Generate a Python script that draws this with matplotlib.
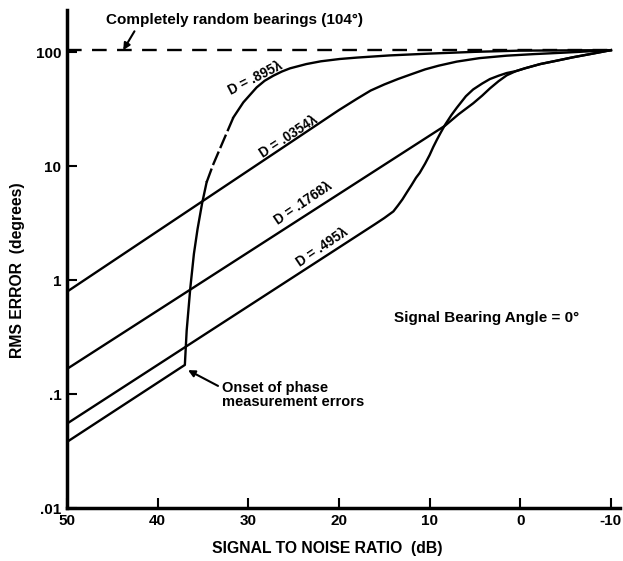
import numpy as np
import matplotlib.pyplot as plt
from matplotlib.ticker import NullLocator

plt.rcParams['font.family'] = ['Liberation Sans', 'DejaVu Sans']
plt.rcParams['font.weight'] = 'bold'
plt.rcParams['axes.unicode_minus'] = False

# values (SNR in dB, RMS error in degrees)
snr_0354 = [50, 20, 18, 16.5, 15, 13.5, 12, 10.5, 9, 7, 4.5, 1.5, -1.5, -5, -10]
err_0354 = [0.79, 31, 39, 46, 52, 58, 64, 70.5, 76, 82.5, 88.5, 93, 96, 99, 104]

snr_1768 = [50, 8.3, 6.8, 5.2, 4.2, 3.35, 2.4, 1.5, 0.5, -0.5, -2.2, -4.0, -5.8, -8.0, -10]
err_1768 = [0.166, 22.6, 28.5, 35.5, 41.5, 48, 55.5, 62.5, 68, 72, 78.5, 84, 90, 97, 104]

snr_495 = [50, 16, 15, 14, 13.5, 13, 12.5, 12, 11.5, 11.1, 10.5, 10, 9.6, 9.2, 8.8, 8.3,
           7.6, 7.0, 6.0, 5.2, 4.2, 3.35, 2.4, 1.5, 0.5, -0.5, -2.2, -4.0, -5.8, -8.0, -10]
err_495 = [0.055, 3.1, 3.5, 4.0, 4.5, 5.1, 5.9, 6.8, 7.9, 8.7, 10.5, 12.5, 14.7, 17, 19.5, 23,
           28, 32.5, 41, 47, 53, 58, 62, 65.5, 68, 72, 78.5, 84, 90, 97, 104]

snr_895 = [50, 37.0, 36.8, 36.4, 36.0, 35.6, 35.1, 34.6, 33.9, 32.75, 31.65, 30.55,
           29.08, 28.2, 27.25, 26.3, 25.4, 23.6, 22, 19.9, 18, 14.4, 10, 5, 0, -10]
err_895 = [0.038, 0.18, 0.36, 0.85, 1.7, 2.8, 4.7, 7.2, 10.2, 16.7, 26.7, 36.2,
           49, 56, 62, 67.5, 72, 78.5, 83, 87, 89.5, 93.5, 97, 100.5, 103, 104]
dash_start, dash_end = 7, 10   # broken stretch of the .895 curve

random_snr = [50, -10]
random_err = [104, 104]

yticks = [0.01, 0.1, 1, 10, 100]
ylabels = ['.01', '.1', '1', '10', '100']
xticks = [50, 40, 30, 20, 10, 0, -10]

fig = plt.figure(figsize=(6.23, 5.61), dpi=100)
ax = fig.add_axes([67/623, 1 - 508/561, (620 - 67)/623, (508 - 10)/561])
ax.set_yscale('log')
ax.set_xlim(50, -11)
ax.set_ylim(0.01, 234)

lw = 1.7
ax.plot(random_snr, random_err, color='black', lw=lw, dashes=(6.2, 4.4))
ax.plot(snr_0354, err_0354, color='black', lw=lw)
ax.plot(snr_1768, err_1768, color='black', lw=lw)
ax.plot(snr_495, err_495, color='black', lw=lw)
ax.plot(snr_895[:dash_start + 1], err_895[:dash_start + 1], color='black', lw=lw)
ax.plot(snr_895[dash_start:dash_end + 1], err_895[dash_start:dash_end + 1],
        color='black', lw=lw, dashes=(6.2, 1.6))
ax.plot(snr_895[dash_end:], err_895[dash_end:], color='black', lw=lw)

# curve labels
lab = dict(fontsize=9.75, ha='center', va='center')
ax.text(29.2, 59, 'D = .895λ', rotation=27, **lab)
ax.text(25.6, 18.1, 'D = .0354λ', rotation=33, **lab)
ax.text(23.9, 4.7, 'D = .1768λ', rotation=34, **lab)
ax.text(21.9, 1.96, 'D = .495λ', rotation=34, **lab)

ax.annotate('Completely random bearings (104°)', xy=(43.8, 104), xytext=(45.7, 190),
            fontsize=11, ha='left', va='center',
            arrowprops=dict(arrowstyle='-|>', color='black', lw=1.5,
                            mutation_scale=10, relpos=(0.12, 0), shrinkA=1, shrinkB=0))
ax.annotate('Onset of phase\nmeasurement errors', xy=(36.65, 0.162), xytext=(32.9, 0.098),
            fontsize=10.5, ha='left', va='center', linespacing=1.0,
            arrowprops=dict(arrowstyle='-|>', color='black', lw=1.5,
                            mutation_scale=10, relpos=(0, 0.75), shrinkA=1, shrinkB=0))
ax.text(3.7, 0.46, 'Signal Bearing Angle = 0°', fontsize=11, ha='center', va='center')

ax.set_yticks(yticks)
ax.set_yticklabels(ylabels)
ax.set_xticks(xticks)
ax.yaxis.set_minor_locator(NullLocator())
ax.tick_params(direction='in', length=7, width=1.5, labelsize=11, pad=4)
for side in ['top', 'right']:
    ax.spines[side].set_visible(False)
for side in ['left', 'bottom']:
    ax.spines[side].set_linewidth(2.5)

fig.text(18/623, 1 - 270/561, 'RMS ERROR  (degrees)', rotation=90, fontsize=11.3,
         ha='center', va='center')
fig.text(327/623, 1 - 549/561, 'SIGNAL TO NOISE RATIO  (dB)', fontsize=11.3,
         ha='center', va='center')

fig.savefig('out.png', dpi=100, facecolor='white')
